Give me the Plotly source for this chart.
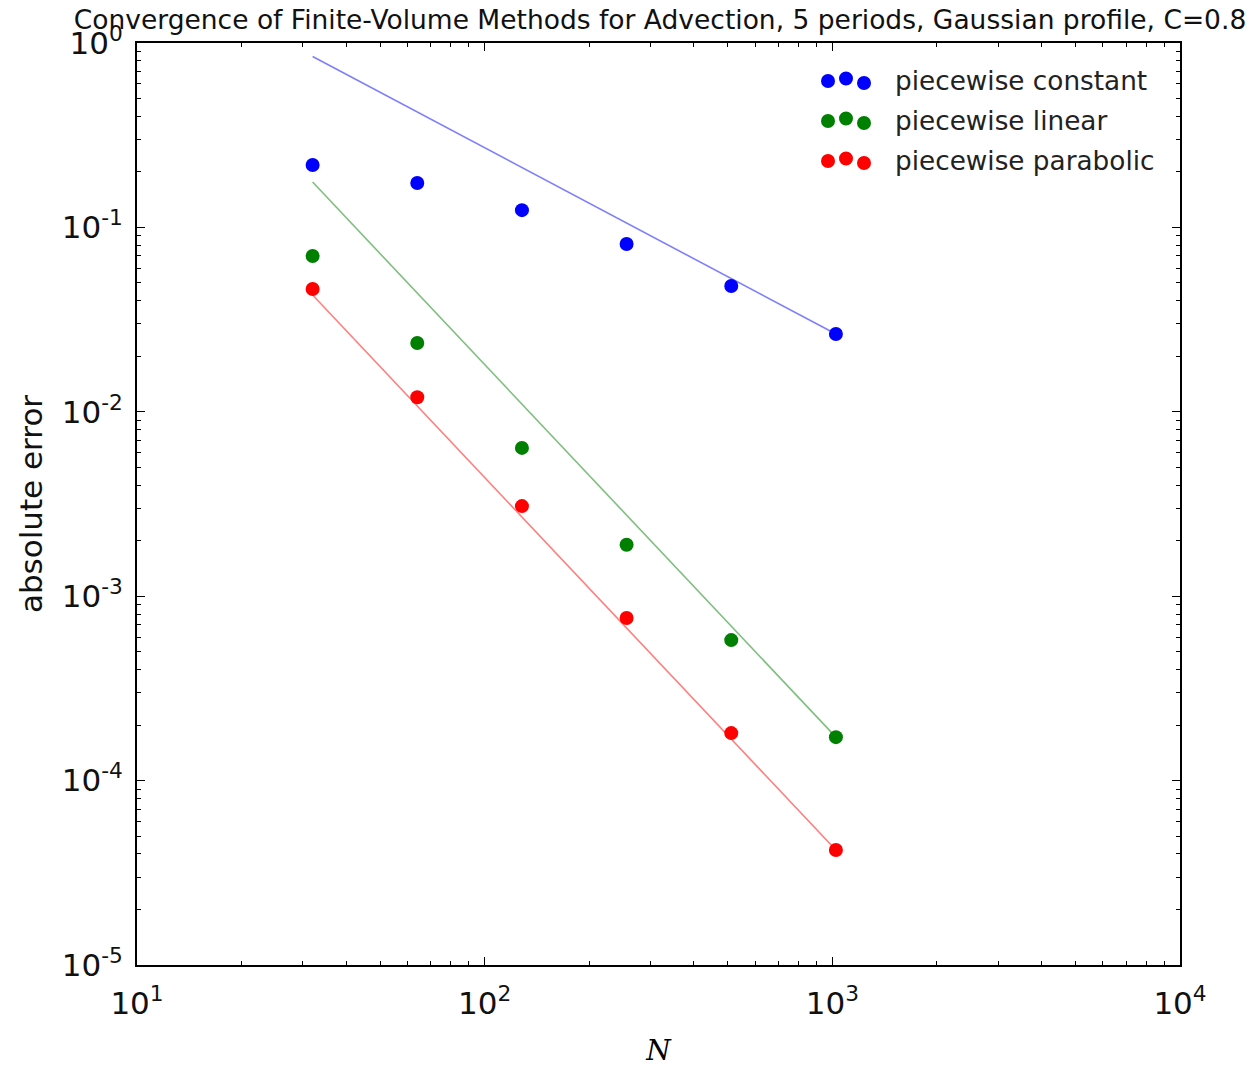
import numpy as np
import plotly.graph_objects as go

N = [32, 64, 128, 256, 512, 1024]
err_constant = [0.218, 0.174, 0.124, 0.0813, 0.0481, 0.0264]
err_linear = [0.070, 0.0236, 0.00637, 0.0019, 0.000578, 0.000172]
err_parabolic = [0.0463, 0.0120, 0.00308, 0.000762, 0.000181, 0.0000420]
labels = ["piecewise constant", "piecewise linear", "piecewise parabolic"]
colors = ["#0000ff", "#008000", "#ff0000"]
orders = [1, 2, 2]
x_tick_vals = [10, 100, 1000, 10000]
x_tick_text = ["10<sup>1</sup>", "10<sup>2</sup>", "10<sup>3</sup>", "10<sup>4</sup>"]
y_tick_vals = [1e-5, 1e-4, 1e-3, 1e-2, 1e-1, 1]
y_tick_text = ["10<sup>-5</sup>", "10<sup>-4</sup>", "10<sup>-3</sup>", "10<sup>-2</sup>",
               "10<sup>-1</sup>", "10<sup>0</sup>"]
title = "Convergence of Finite-Volume Methods for Advection, 5 periods, Gaussian profile, C=0.8"

FONT = "DejaVu Sans"
fig = go.Figure()
Na = np.array(N, dtype=float)
for errs, col, p in zip([err_constant, err_linear, err_parabolic], colors, orders):
    ref = errs[-1] * (Na[-1] / Na) ** p
    fig.add_trace(go.Scatter(x=N, y=ref, mode="lines",
                             line=dict(color=col, width=1.6), opacity=0.5,
                             showlegend=False, hoverinfo="skip"))
for errs, col, lab in zip([err_constant, err_linear, err_parabolic], colors, labels):
    fig.add_trace(go.Scatter(x=N, y=errs, mode="markers", name=lab,
                             marker=dict(color=col, size=14, line=dict(width=0)),
                             showlegend=False))

# page body has an 8px margin: work in screenshot pixels, then offset
OFF = 8
W, H = 1255 - OFF, 1067 - OFF
x0, x1 = 137 - OFF, 1180 - OFF
y0, y1 = 43 - OFF, 965 - OFF
def px(x):
    return (x - OFF - x0) / (x1 - x0)
def py(y):
    return (y1 - (y - OFF)) / (y1 - y0)

# custom matplotlib-like legend (3 scatter points per entry)
shapes = []
annotations = []
row_y = [81, 121, 161]
dot_x = [828, 846, 864]
dot_dy = [0, -2.5, 2]
for i, (lab, col) in enumerate(zip(labels, colors)):
    for dx, dy in zip(dot_x, dot_dy):
        shapes.append(dict(type="circle", xref="paper", yref="paper",
                           xsizemode="pixel", ysizemode="pixel",
                           xanchor=px(dx), yanchor=py(row_y[i] + dy),
                           x0=-7, x1=7, y0=-7, y1=7,
                           fillcolor=col, line=dict(width=0)))
    annotations.append(dict(x=px(893), y=py(row_y[i]), xref="paper", yref="paper",
                            text=lab, showarrow=False, xanchor="left", yanchor="middle",
                            font=dict(family=FONT, size=26.3, color="#222222")))

decades_x = [10, 100, 1000]
decades_y = [1e-5, 1e-4, 1e-3, 1e-2, 1e-1]
minor_x = [d * k for d in decades_x for k in range(2, 10)]
minor_y = [d * k for d in decades_y for k in range(2, 10)]

fig.update_layout(
    width=W, height=H,
    margin=dict(l=x0, r=W - x1, t=y0, b=H - y1),
    paper_bgcolor="white", plot_bgcolor="white",
    title=dict(text=title, x=(660 - OFF) / W, xanchor="center", y=1 - (20 - OFF) / H, yanchor="middle",
               automargin=False,
               font=dict(family=FONT, size=26.5, color="#111111")),
    shapes=shapes, annotations=annotations,
    showlegend=False,
)
axis_common = dict(type="log", showgrid=False, zeroline=False, automargin=False,
                   showline=True, linecolor="black", linewidth=2, mirror="allticks",
                   ticks="inside", ticklen=8, tickwidth=1, tickcolor="black",
                   tickfont=dict(family=FONT, size=31, color="#111111"))
fig.update_xaxes(range=[1, 4], tickvals=x_tick_vals, ticktext=x_tick_text,
                 minor=dict(tickvals=minor_x, ticks="inside", ticklen=4, tickcolor="black", showgrid=False),
                 title=dict(text="<i>N</i>", font=dict(family="DejaVu Serif", size=28, color="black"), standoff=20),
                 ticklabelstandoff=10, **axis_common)
fig.update_yaxes(range=[-5, 0], tickvals=y_tick_vals, ticktext=y_tick_text,
                 minor=dict(tickvals=minor_y, ticks="inside", ticklen=4, tickcolor="black", showgrid=False),
                 title=dict(text="absolute error", font=dict(family=FONT, size=31, color="#111111"), standoff=10),
                 ticklabelstandoff=6, **axis_common)

fig.write_html("out.html")
